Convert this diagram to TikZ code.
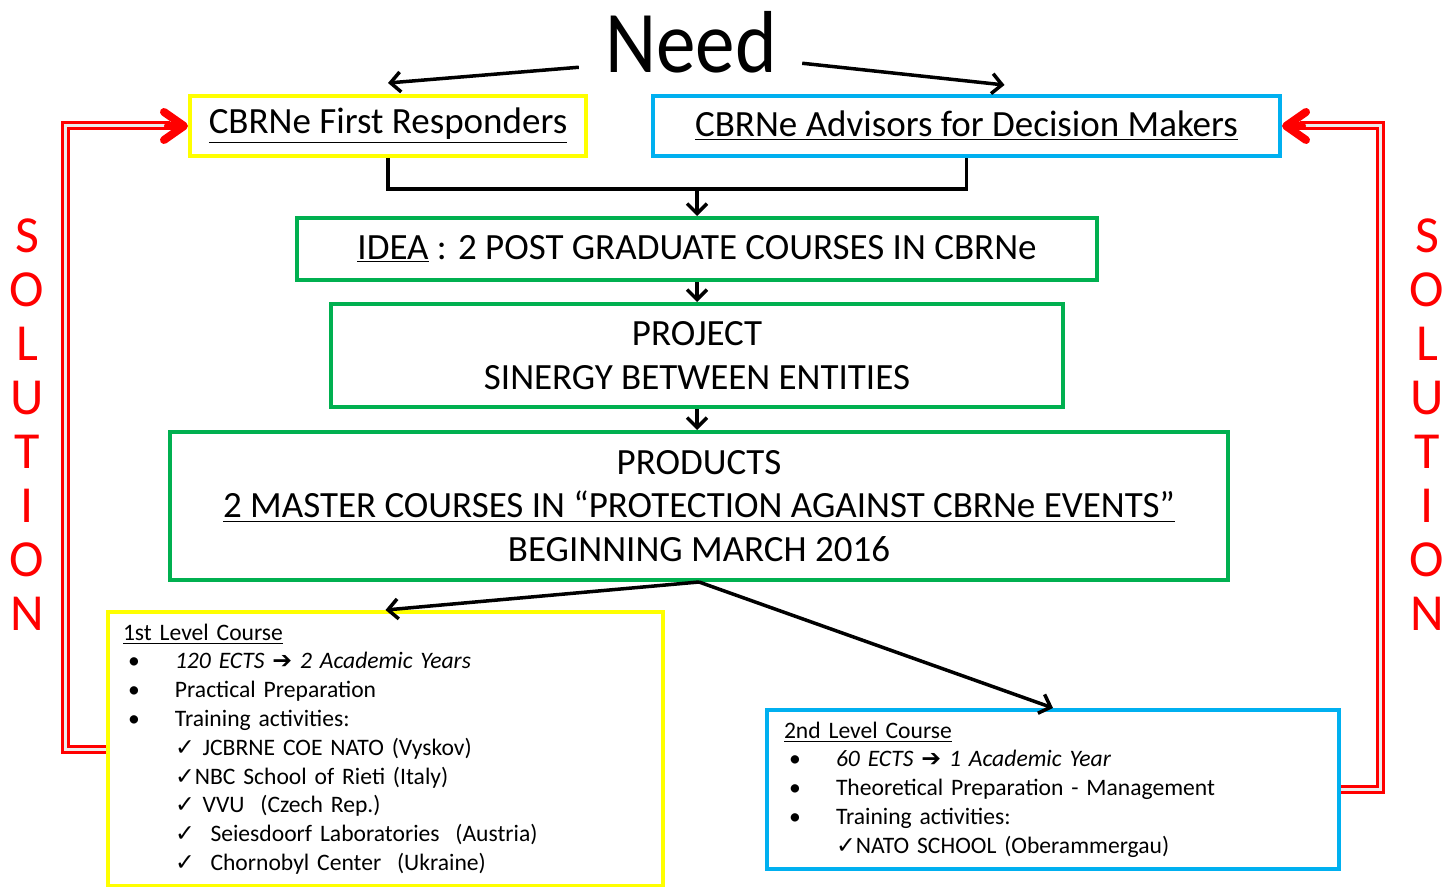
\documentclass[tikz,border=0pt]{standalone}
\usepackage{fontspec}
\usepackage{graphicx}
\setmainfont{Carlito}
\newfontfamily\symfont{DejaVu Sans}
\usetikzlibrary{arrows.meta}
\usetikzlibrary{positioning}

\definecolor{boxyellow}{RGB}{255,255,0}
\definecolor{boxblue}{RGB}{0,176,240}
\definecolor{boxgreen}{RGB}{0,176,80}
\newcommand{\ck}{{\symfont\char"2713}}
\newcommand{\harr}{{\symfont\char"2794}}
\newcommand{\bull}{\makebox[26pt][l]{\hspace{2.5pt}\textbullet}}

\begin{document}
\begin{tikzpicture}[x=0.5pt,y=-0.5pt]
\tikzstyle{box}=[draw,line width=2pt,inner sep=0pt]
\tikzstyle{big}=[font=\fontsize{18.5}{21.75}\selectfont]
\tikzstyle{small}=[font=\fontsize{11.8}{14.4}\selectfont,align=left]
\tikzstyle{arr}=[line width=1.75pt,-{Straight Barb[length=5pt,width=10pt]}]
\tikzstyle{sol}=[draw=red,line width=1.5pt,double=white!85!gray,double distance=1.5pt]
\tikzstyle{soltip}=[red,line width=4pt,line cap=round,-{Straight Barb[length=10pt,width=14pt,round]}]
\tikzstyle{solletter}=[text=red,font=\fontsize{26}{26}\selectfont]
\useasboundingbox (0,0) rectangle (1450,887);

\node[font=\fontsize{44}{44}\selectfont,inner sep=0pt] (need) at (691,42) {\scalebox{0.9}[1]{Need}};

\node[box,big,draw=boxyellow,minimum width=198pt,minimum height=30pt] (fr) at (388,126) {\underline{CBRNe First Responders}};
\node[box,big,draw=boxblue,minimum width=313.5pt,minimum height=30pt] (adv) at (966.5,126) {\underline{CBRNe Advisors for Decision Makers}};

\node[box,big,draw=boxgreen,minimum width=400pt,minimum height=31pt] (idea) at (697,249) {\underline{IDEA} : 2 POST GRADUATE COURSES IN CBRNe};
\node[box,big,draw=boxgreen,minimum width=366pt,minimum height=51.5pt,align=center] (proj) at (697,355.5) {PROJECT\\SINERGY BETWEEN ENTITIES};
\node[box,big,draw=boxgreen,minimum width=529pt,minimum height=74pt,align=center] (prod) at (699,506) {PRODUCTS\\\underline{2 MASTER COURSES IN ``PROTECTION AGAINST CBRNe EVENTS''}\\BEGINNING MARCH 2016};

\node[box,small,draw=boxyellow,minimum height=137pt,inner xsep=7.5pt,text width=262.5pt] (first) at (385.5,749) {\underline{1st Level Course}\\
\bull\textit{120 ECTS \harr{} 2 Academic Years}\\
\bull Practical Preparation\\
\bull Training activities:\\
\hspace*{26pt}\ck\ JCBRNE COE NATO (Vyskov)\\
\hspace*{26pt}\ck NBC School of Rieti (Italy)\\
\hspace*{26pt}\ck\ VVU\ \ (Czech Rep.)\\
\hspace*{26pt}\ck\ \ Seiesdoorf Laboratories\ \ (Austria)\\
\hspace*{26pt}\ck\ \ Chornobyl Center\ \ (Ukraine)};
\node[box,small,draw=boxblue,minimum height=79.5pt,inner xsep=8.5pt,text width=269pt] (second) at (1053,789.5) {\underline{2nd Level Course}\\
\bull\textit{60 ECTS \harr{} 1 Academic Year}\\
\bull Theoretical Preparation - Management\\
\bull Training activities:\\
\hspace*{26pt}\ck NATO SCHOOL (Oberammergau)};

% need
\draw[arr] ([shift={(-13pt,3pt)}]need.south west) -- ([yshift=5.5pt]fr.north);
\draw[arr] ([shift={(12.5pt,5pt)}]need.south east) -- ([shift={(19pt,4.5pt)}]adv.north);

% flow
\draw[line width=1.75pt] (fr.south) -- ++(0,31) coordinate (join) -| (adv.south);
\draw[arr] (idea.north |- join) -- (idea.north);
\draw[arr] (idea.south) -- (proj.north);
\draw[arr] (proj.south |- proj.south) -- (proj.south |- prod.north);
\draw[arr] (prod.south) -- (first.north);
\draw[arr] (prod.south) -- (second.north);

% solution
\draw[sol] (first.west) -- ++(-41,0) |- ([xshift=-9pt]fr.west);
\draw[soltip] ([xshift=-10pt]fr.west) -- (fr.west);
\draw[sol] (second.east) -- ++(39,0) |- ([xshift=9pt]adv.east);
\draw[soltip] ([xshift=10pt]adv.east) -- (adv.east);

\foreach \c [count=\i] in {S,O,L,U,T,I,O,N}{
  \node[solletter] (sl\i) at (27,182+54*\i) {\c};
  \node[solletter] (sr\i) at (1427,182+54*\i) {\c};
}
\end{tikzpicture}
\end{document}
